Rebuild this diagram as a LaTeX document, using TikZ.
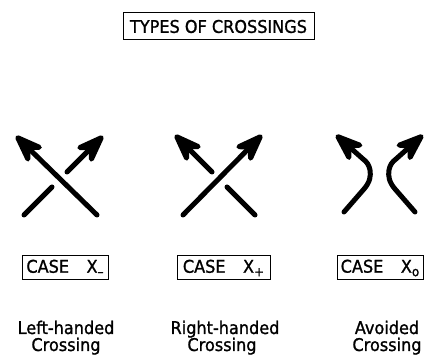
\documentclass[tikz,border=0pt]{standalone}
\usepackage{fontspec}
\setmainfont{DejaVu Sans}[FakeStretch=0.92,FakeBold=1.2]
\usetikzlibrary{arrows.meta}

\newcommand{\casesub}[1]{\raisebox{-3.5pt}{\fontsize{13}{13}\selectfont #1}}

\tikzset{
  strand/.style={line width=5pt, line cap=round,
    -{Stealth[length=38pt,width=28pt,inset=13pt,round]}},
  plainstrand/.style={line width=5pt, line cap=round},
  casebox/.style={draw, line width=1pt, minimum width=86pt, minimum height=24pt,
    inner sep=0pt, font=\fontsize{17.5}{20}\selectfont},
  captext/.style={anchor=base, font=\fontsize{17.5}{20}\selectfont}
}

\begin{document}
\begin{tikzpicture}[x=1pt,y=-1pt]

      \useasboundingbox (0,0) rectangle (426,355);

      % Title
      \node[casebox, minimum width=191pt, minimum height=27pt] (title) at (218.5,26.5)
          {TYPES OF CROSSINGS};

      % Left-handed crossing
      \draw[strand] (97,215) -- (16,136);
      \draw[plainstrand] (24,215) -- (52,187);
      \draw[strand] (67,172) -- (103,136);

      % Right-handed crossing
      \draw[strand] (183,215) -- (262,135);
      \draw[plainstrand] (255,215) -- (227,187);
      \draw[strand] (212,172) -- (175,135);

      % Avoided crossing
      \draw[strand] (344,212) -- (364,189)
          .. controls (370,182) and (371,176) .. (370,170)
          .. controls (369,165) and (367,162) .. (363,159) -- (336,135);
      \draw[strand] (415,212) -- (395,189)
          .. controls (389,182) and (388,176) .. (389,170)
          .. controls (390,165) and (392,162) .. (396,159) -- (423,135);

      % Case boxes
      \node[casebox] (caseL) at (65,268) {CASE\quad X\casesub{--}};
      \node[casebox, minimum width=93pt] (caseR) at (223.5,268) {CASE\quad X\casesub{+}};
      \node[casebox] (caseA) at (380,268) {CASE\quad X\casesub{o}};

      % Captions
      \node[captext] (leftA) at (66,334) {Left-handed};
      \node[captext] (leftB) at (66,351) {Crossing};
      \node[captext] (rightA) at (225,334) {Right-handed};
      \node[captext] (rightB) at (222,351) {Crossing};
      \node[captext] (avoidA) at (387,334) {Avoided};
      \node[captext] (avoidB) at (387,351) {Crossing};

\end{tikzpicture}
\end{document}
